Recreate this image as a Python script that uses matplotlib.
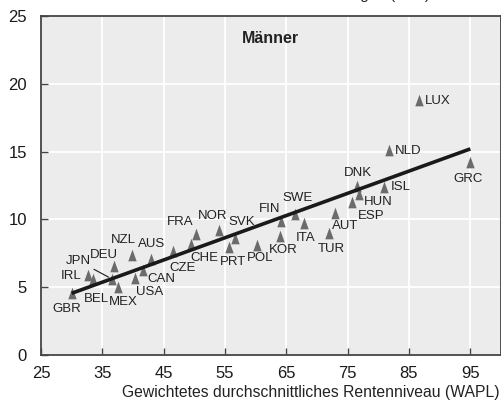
import matplotlib
matplotlib.use("Agg")
import matplotlib.pyplot as plt
from matplotlib import font_manager

names = {f.name for f in font_manager.fontManager.ttflist}
base = "Liberation Sans Narrow" if "Liberation Sans Narrow" in names else "Liberation Sans"
plt.rcParams['font.family'] = [base, 'DejaVu Sans']

# ---- data ----
countries = ["GBR", "IRL", "BEL", "JPN", "DEU", "MEX", "NZL", "USA", "CAN", "AUS",
             "CZE", "CHE", "FRA", "NOR", "PRT", "SVK", "POL", "KOR", "FIN", "SWE",
             "ITA", "TUR", "AUT", "ESP", "DNK", "HUN", "ISL", "NLD", "LUX", "GRC"]
wapl = [30.0, 32.6, 33.4, 36.6, 36.9, 37.5, 39.9, 40.3, 41.6, 43.0,
        46.6, 49.4, 50.2, 54.0, 55.6, 56.7, 60.2, 63.9, 64.1, 66.4,
        67.8, 71.9, 72.9, 75.7, 76.6, 76.9, 81.0, 81.7, 86.7, 95.0]
value = [4.6, 5.9, 5.6, 5.6, 6.6, 5.0, 7.35, 5.65, 6.25, 7.1,
         7.7, 8.2, 8.95, 9.2, 8.0, 8.6, 8.1, 8.8, 9.9, 10.4,
         9.7, 9.0, 10.5, 11.3, 12.5, 11.9, 12.4, 15.1, 18.8, 14.2]
trend_x = [30, 95]
trend_y = [4.55, 15.2]
x_ticks = [25, 35, 45, 55, 65, 75, 85, 95]
y_ticks = [0, 5, 10, 15, 20, 25]

# label offsets in pixels (dx, dy) and horizontal alignment
label_pos = {
    "GBR": (-5, -16, "center"), "IRL": (-6, -1, "right"), "BEL": (4, -20, "center"),
    "JPN": (-21, 18, "right"), "DEU": (-10, 11, "center"), "MEX": (6, -15, "center"),
    "NZL": (-9, 15, "center"), "USA": (15, -14, "center"), "CAN": (19, -9, "center"),
    "AUS": (0, 15, "center"), "CZE": (9, -17, "center"), "CHE": (14, -14, "center"),
    "FRA": (-15, 12, "center"), "NOR": (-6, 14, "center"), "PRT": (4, -15, "center"),
    "SVK": (6, 16, "center"), "POL": (3, -13, "center"), "KOR": (4, -14, "center"),
    "FIN": (-11, 12, "center"), "SWE": (3, 16, "center"), "ITA": (2, -15, "center"),
    "TUR": (3, -16, "center"), "AUT": (10, -13, "center"), "ESP": (19, -14, "center"),
    "DNK": (0, 12, "center"), "HUN": (19, -8, "center"), "ISL": (6, 0, "left"),
    "NLD": (6, -1, "left"), "LUX": (5, -1, "left"), "GRC": (-2, -17, "center"),
}

fig = plt.figure(figsize=(5.02, 4.03), dpi=100)
ax = fig.add_axes([41/502, 48/403, 460/502, 339/403])
ax.set_facecolor("#ececec")
ax.set_xlim(25, 100)
ax.set_ylim(0, 25)
ax.set_xticks(x_ticks)
ax.set_yticks(y_ticks)
ax.grid(True, color="white", linewidth=1.3)
ax.set_axisbelow(True)
for s in ax.spines.values():
    s.set_color("#444444")
    s.set_linewidth(1.3)
ax.tick_params(direction="in", length=5, width=1, color="#444444",
               labelsize=12, colors="#1a1a1a")
ax.tick_params(axis="y", pad=10)
ax.tick_params(axis="x", pad=8)
for lbl in ax.get_xticklabels() + ax.get_yticklabels():
    lbl.set_color("#1a1a1a")

tri = [(0, 1), (-0.72, -1), (0.72, -1), (0, 1)]
ax.plot(wapl, value, linestyle="none", marker=tri, markersize=8.4,
        color="#6b6b6b", markeredgewidth=0, zorder=3)
ax.plot(trend_x, trend_y, color="#1a1a1a", linewidth=2.6, zorder=4,
        solid_capstyle="butt")

for c, x, y in zip(countries, wapl, value):
    dx, dy, ha = label_pos[c]
    kw = {}
    if c == "JPN":
        kw["arrowprops"] = dict(arrowstyle="-", color="#1a1a1a", lw=0.8,
                                shrinkA=0, shrinkB=3)
    ax.annotate(c, (x, y), xytext=(dx, dy), textcoords="offset pixels",
                ha=ha, va="center", fontsize=9.5, color="#222222", zorder=5, **kw)

ax.text(0.498, 0.935, "Männer", transform=ax.transAxes, ha="center", va="center",
        fontsize=11.5, fontweight="bold", color="#222222")

fig.text(0.996, 11/403, "Gewichtetes durchschnittliches Rentenniveau (WAPL)",
         ha="right", va="center", fontsize=11.3, color="#222222")
fig.text(430/502, 1 + 0.5/403, "Nettoersatzrate der Rentenleistungen (in %)",
         ha="right", va="baseline", fontsize=11, color="#222222")

fig.savefig("out.png", dpi=100)
